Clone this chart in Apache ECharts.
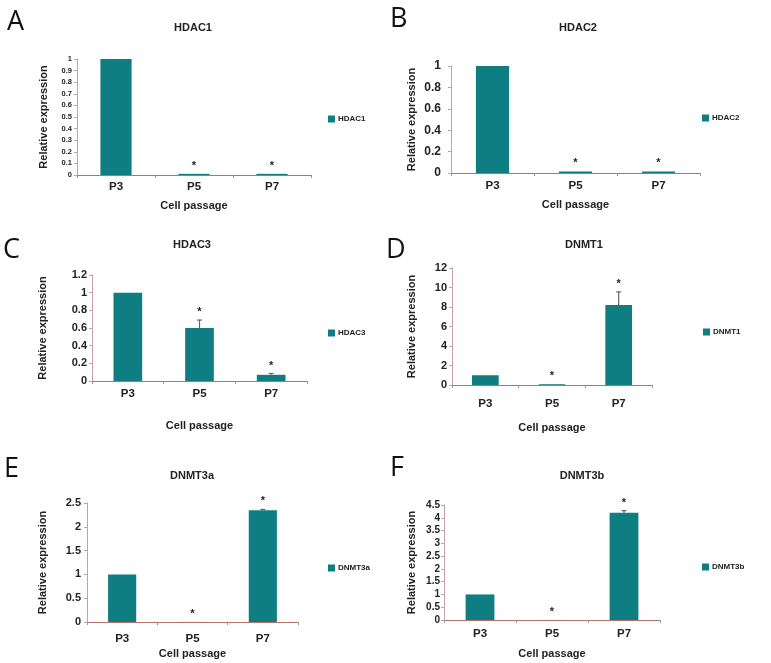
<!DOCTYPE html>
<html>
<head>
<meta charset="utf-8">
<script src="https://cdn.jsdelivr.net/npm/echarts@6/dist/echarts.min.js"></script>
<style>
html,body{margin:0;padding:0;background:#fff;}
#main{width:771px;height:663px;}
</style>
</head>
<body>
<div id="main"></div>
<script>
// ---- data ----
var categories = ['P3', 'P5', 'P7'];
var panelLetters = ['A', 'B', 'C', 'D', 'E', 'F'];
var geneNames = ['HDAC1', 'HDAC2', 'HDAC3', 'DNMT1', 'DNMT3a', 'DNMT3b'];

var hdac1 = [1, 0.01, 0.01];
var hdac2 = [1, 0.015, 0.015];
var hdac3 = [1, 0.6, 0.07];
var dnmt1 = [1, 0.08, 8.2];
var dnmt3a = [1, 0.002, 2.35];
var dnmt3b = [1, 0.002, 4.2];

var hdac1Err = [0, 0, 0];
var hdac2Err = [0, 0, 0];
var hdac3Err = [0, 0.09, 0.015];
var dnmt1Err = [0, 0, 1.35];
var dnmt3aErr = [0, 0, 0.015];
var dnmt3bErr = [0, 0, 0.08];

var significant = [0, 1, 1];

var yMax = [1, 1, 1.2, 12, 2.5, 4.5];
var yStep = [0.1, 0.2, 0.2, 2, 0.5, 0.5];

var allValues = [hdac1, hdac2, hdac3, dnmt1, dnmt3a, dnmt3b];
var allErrors = [hdac1Err, hdac2Err, hdac3Err, dnmt1Err, dnmt3aErr, dnmt3bErr];

// ---- layout ----
var grids = [
  {left: 77, top: 59, width: 234, height: 116},
  {left: 451, top: 66, width: 249, height: 107},
  {left: 92, top: 275, width: 215, height: 106},
  {left: 452, top: 268, width: 200, height: 117},
  {left: 87, top: 503, width: 211, height: 119},
  {left: 444, top: 505, width: 216, height: 115}
];
var yLabelSize = [7.5, 12, 11, 11, 11, 10];
var yLabelMargin = [5, 10, 5, 5, 6, 4];
var xLabelMargin = [6, 7, 7, 13, 11, 8];
var yNameGap = [28, 34, 44, 35, 39, 27];
var xNameGap = [25, 26, 39, 37, 26, 28];
var titlePos = [[193, 29], [578, 29], [192, 246], [584, 246], [192, 477], [582, 477]];
var legendPos = [[328, 120], [702, 119], [328, 334], [703, 333], [328, 569], [702, 568]];
var letterPos = [[7, 25], [390, 22], [3, 253], [386, 253], [4, 472], [390, 471]];

var BAR = '#0f7e83';
var FONT = 'Liberation Sans, Arial, sans-serif';

var option = {
  backgroundColor: '#fff',
  animation: false,
  grid: [], xAxis: [], yAxis: [], series: [], legend: [], title: [], graphic: []
};

for (var i = 0; i < 6; i++) {
  var g = grids[i];
  option.grid.push({left: g.left, top: g.top, width: g.width, height: g.height, containLabel: false});
  option.xAxis.push({
    type: 'category', gridIndex: i, data: categories,
    name: 'Cell passage', nameLocation: 'middle', nameGap: xNameGap[i],
    nameTextStyle: {fontFamily: FONT, fontWeight: 'bold', fontSize: 11, color: '#222'},
    axisLine: {lineStyle: {color: '#b5726b', width: 1}},
    axisTick: {show: true, alignWithLabel: false, length: 3, lineStyle: {color: '#999'}},
    axisLabel: {fontFamily: FONT, fontWeight: 'bold', fontSize: 11.5, color: '#222', margin: xLabelMargin[i]},
    splitLine: {show: false}
  });
  option.yAxis.push({
    type: 'value', gridIndex: i, min: 0, max: yMax[i], interval: yStep[i],
    name: 'Relative expression', nameLocation: 'middle', nameGap: yNameGap[i],
    nameTextStyle: {fontFamily: FONT, fontWeight: 'bold', fontSize: 11, color: '#222'},
    axisLine: {show: true, lineStyle: {color: '#c9a29d', width: 1}},
    axisTick: {show: true, length: 3, lineStyle: {color: '#aaa'}},
    axisLabel: {fontFamily: FONT, fontWeight: 'bold', fontSize: yLabelSize[i], color: '#222', margin: yLabelMargin[i]},
    splitLine: {show: false}
  });
  option.series.push({
    type: 'bar', name: geneNames[i], xAxisIndex: i, yAxisIndex: i,
    data: allValues[i], barWidth: '40%',
    itemStyle: {color: BAR}
  });
  var errData = [];
  for (var j = 0; j < categories.length; j++) {
    errData.push([j, allValues[i][j], allErrors[i][j], significant[j]]);
  }
  option.series.push({
    type: 'custom', name: geneNames[i] + ' err', xAxisIndex: i, yAxisIndex: i,
    data: errData, z: 5,
    renderItem: function (params, api) {
      var x = api.value(0), v = api.value(1), e = api.value(2), s = api.value(3);
      var base = api.coord([x, v]);
      var top = api.coord([x, v + e]);
      var children = [];
      if (e > 0) {
        children.push({type: 'line', shape: {x1: base[0], y1: base[1], x2: top[0], y2: top[1]}, style: {stroke: '#666', lineWidth: 1.2}});
        children.push({type: 'line', shape: {x1: top[0] - 2.5, y1: top[1], x2: top[0] + 2.5, y2: top[1]}, style: {stroke: '#666', lineWidth: 1.2}});
      }
      if (s) {
        children.push({type: 'text', style: {text: '*', x: top[0], y: top[1] - 8, textAlign: 'center', textVerticalAlign: 'middle', font: 'bold 11px ' + FONT, fill: '#222'}});
      }
      return {type: 'group', children: children};
    }
  });
  option.legend.push({
    data: [geneNames[i]], left: legendPos[i][0], top: legendPos[i][1] - 5,
    orient: 'vertical', padding: 0, itemWidth: 7, itemHeight: 7, icon: 'rect',
    selectedMode: false,
    textStyle: {fontFamily: FONT, fontWeight: 'bold', fontSize: 8, color: '#222', padding: [0, 0, 0, -2]}
  });
  option.title.push({
    text: geneNames[i], left: titlePos[i][0], top: titlePos[i][1] - 7, textAlign: 'center', padding: 0,
    textStyle: {fontFamily: FONT, fontWeight: 'bold', fontSize: 11, color: '#222'}
  });
  option.graphic.push({
    type: 'text', left: letterPos[i][0], top: letterPos[i][1] - 16,
    style: {text: panelLetters[i], font: '27px "Open Sans", "Noto Sans", sans-serif', fill: '#111'}
  });
}

var chart = echarts.init(document.getElementById('main'));
chart.setOption(option);
</script>
</body>
</html>
